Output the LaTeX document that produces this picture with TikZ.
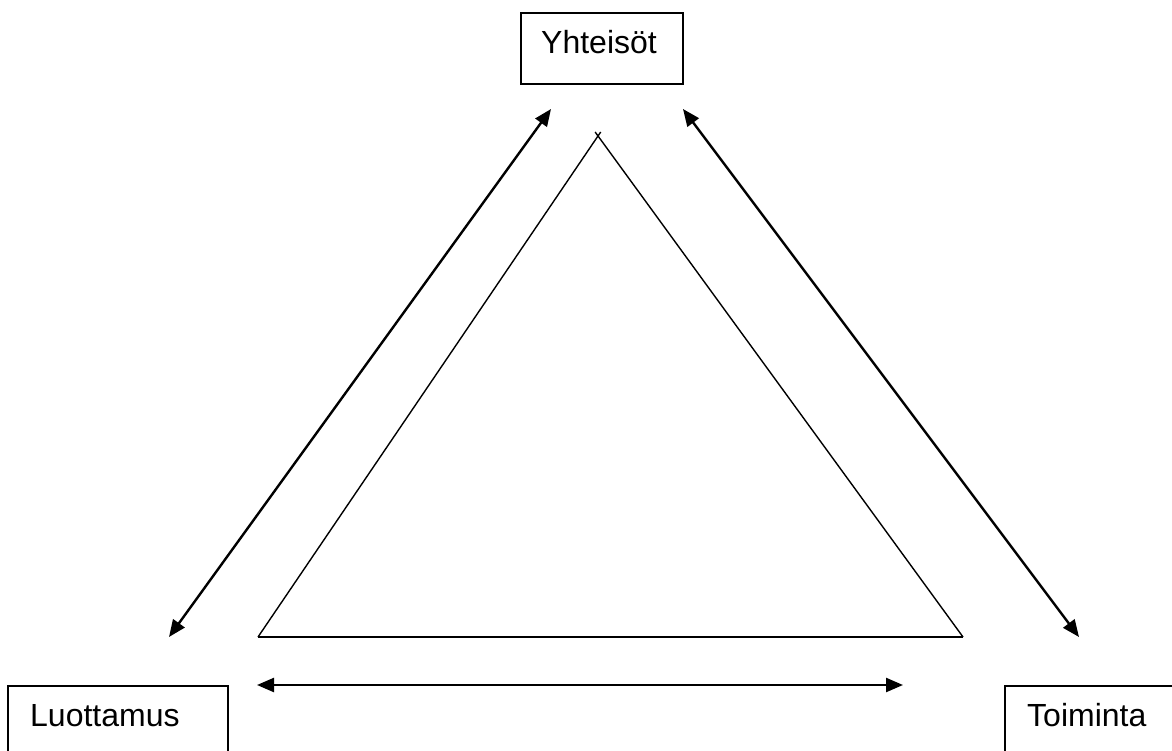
\documentclass[tikz,border=0pt]{standalone}
\usepackage{fontspec}
\setmainfont{Liberation Sans}
\usetikzlibrary{arrows.meta}
\begin{document}
\begin{tikzpicture}[x=1pt,y=-1pt,
  boxstyle/.style={draw=black,line width=1.6pt,inner sep=0pt},
  lbl/.style={anchor=base west,inner sep=0pt,font=\fontsize{32}{38}\selectfont},
  dblarrow/.style={line width=2.4pt,{Triangle[length=17pt,width=14pt]}-{Triangle[length=17pt,width=14pt]}},
  triline/.style={line width=1.4pt}]
\clip (0,0) rectangle (1172,751);
\fill[white] (0,0) rectangle (1172,751);
% boxes
\node[boxstyle,minimum width=162pt,minimum height=71pt] (yhtbox) at (602,48.5) {};
\node[boxstyle,minimum width=220pt,minimum height=100pt] (luobox) at (118,736) {};
\node[boxstyle,minimum width=220pt,minimum height=100pt] (toibox) at (1115,736) {};
\node[lbl] (yht) at (541,54) {Yhteisöt};
\node[lbl] (luo) at (30,726) {Luottamus};
\node[lbl] (toi) at (1027,726) {Toiminta};
% triangle
\coordinate (tl) at (258,637);
\coordinate (tr) at (963,637);
\coordinate (tla) at (600.7,132);
\coordinate (tra) at (595.1,132);
\draw[triline] (tl) -- (tla);
\draw[triline] (tr) -- (tra);
\draw[triline] (tl) -- (tr);
% arrows
\coordinate (a1) at (551,109);
\coordinate (a2) at (169,637);
\coordinate (b1) at (683,109);
\coordinate (b2) at (1079,637);
\coordinate (c1) at (257,685);
\coordinate (c2) at (903,685);
\draw[dblarrow] (a1) -- (a2);
\draw[dblarrow] (b1) -- (b2);
\draw[dblarrow] (c1) -- (c2);
\end{tikzpicture}
\end{document}
